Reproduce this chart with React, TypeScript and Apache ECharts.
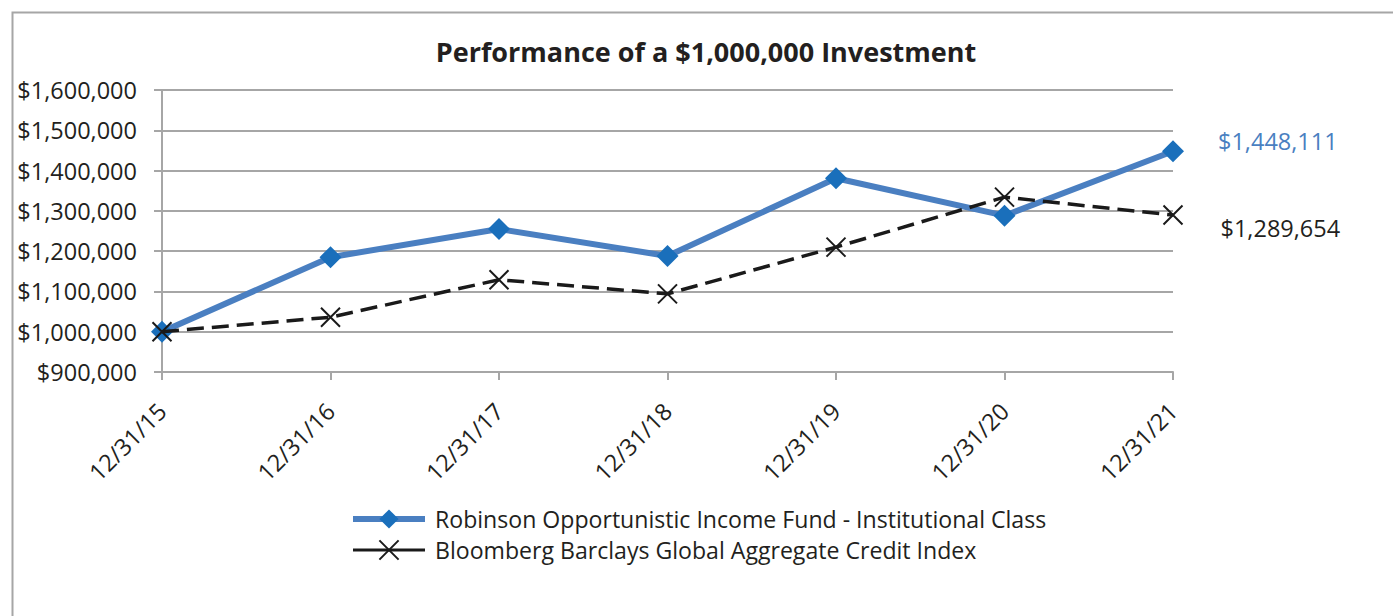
import React, { useEffect, useRef } from "react";
import * as echarts from "echarts";

const categories = ["12/31/15", "12/31/16", "12/31/17", "12/31/18", "12/31/19", "12/31/20", "12/31/21"];
const fundName = "Robinson Opportunistic Income Fund - Institutional Class";
const indexName = "Bloomberg Barclays Global Aggregate Credit Index";
const fundValues = [1000000, 1185000, 1255000, 1188000, 1381000, 1288000, 1448111];
const indexValues = [1000000, 1036000, 1129000, 1094000, 1210000, 1334000, 1289654];
const titleText = "Performance of a $1,000,000 Investment";

const FONT = "'Open Sans', sans-serif";
const TEXT = "#231f20";
const GRID = "#a6a6a6";
const BLUE_LINE = "#4a7fc1";
const BLUE_MARK = "#1a6fbb";
const BLACK = "#1a1a1a";
const fmt = (v: number) => "$" + Number(v).toLocaleString("en-US");

export default function App() {
  const ref = useRef<HTMLDivElement>(null);
  useEffect(() => {
    if (!ref.current) return;
    const chart = echarts.init(ref.current, null, { renderer: "svg" });
    const last = categories.length - 1;
    const fundData = fundValues.map((v, i) =>
      i === last
        ? { value: v, label: { show: true, position: "right", distance: 34, offset: [0, -10], color: BLUE_LINE, fontSize: 23.5, fontFamily: FONT, formatter: (p: any) => fmt(p.value) } }
        : v
    );
    const indexData = indexValues.map((v, i) =>
      i === last
        ? { value: v, label: { show: true, position: "right", distance: 37, offset: [0, 13], color: TEXT, fontSize: 23.5, fontFamily: FONT, formatter: (p: any) => fmt(p.value) } }
        : v
    );
    chart.setOption({
      animation: false,
      backgroundColor: "#ffffff",
      textStyle: { fontFamily: FONT, color: TEXT },
      graphic: [
        { type: "rect", left: 10, top: 10, shape: { x: 0, y: 0, width: 1400, height: 620 }, style: { fill: "none", stroke: "#a6a6a6", lineWidth: 2 }, z: -1, silent: true },
      ],
      title: {
        text: titleText,
        left: 701,
        top: 33,
        textAlign: "center",
        textStyle: { fontFamily: FONT, fontWeight: "bold", fontSize: 27, color: TEXT },
      },
      grid: { left: 162, top: 90, width: 1011, height: 282, containLabel: false },
      xAxis: {
        type: "category",
        data: categories,
        boundaryGap: false,
        axisLine: { lineStyle: { color: GRID, width: 2 } },
        axisTick: { show: true, length: 8, lineStyle: { color: GRID, width: 2 }, alignWithLabel: true },
        axisLabel: { rotate: 45, margin: 35, fontSize: 23.5, color: TEXT, fontFamily: FONT },
        splitLine: { show: false },
      },
      yAxis: {
        type: "value",
        min: 900000,
        max: 1600000,
        interval: 100000,
        axisLine: { show: true, lineStyle: { color: GRID, width: 2 } },
        axisTick: { show: true, length: 8, lineStyle: { color: GRID, width: 2 } },
        axisLabel: { margin: 25, fontSize: 23.5, color: TEXT, fontFamily: FONT, formatter: (v: number) => fmt(v) },
        splitLine: { show: true, lineStyle: { color: GRID, width: 2 } },
      },
      legend: {
        orient: "vertical",
        left: 350,
        top: 507,
        padding: 0,
        itemWidth: 72,
        itemHeight: 24,
        itemGap: 7,
        textStyle: { fontSize: 23.1, color: TEXT, fontFamily: FONT, lineHeight: 24, padding: [0, 0, 0, 5] },
        data: [
          { name: fundName, lineStyle: { width: 6, color: BLUE_LINE, type: "solid" } },
          { name: indexName, lineStyle: { width: 3, color: BLACK, type: "solid" } },
        ],
      },
      series: [
        {
          name: fundName,
          type: "line",
          data: fundData,
          symbol: "diamond",
          symbolSize: 22,
          lineStyle: { color: BLUE_LINE, width: 6 },
          itemStyle: { color: BLUE_MARK },
          z: 3,
        },
        {
          name: indexName,
          type: "line",
          data: indexData,
          symbol: "path://M0,0L10,10M10,0L0,10",
          symbolSize: 19,
          lineStyle: { color: BLACK, width: 3.5, type: [17, 8] },
          itemStyle: { color: BLACK, borderColor: BLACK, borderWidth: 2 },
          z: 4,
        },
      ],
    });
    return () => chart.dispose();
  }, []);
  return <div ref={ref} style={{ position: "fixed", left: 0, top: 0, width: 1393, height: 616 }} />;
}
